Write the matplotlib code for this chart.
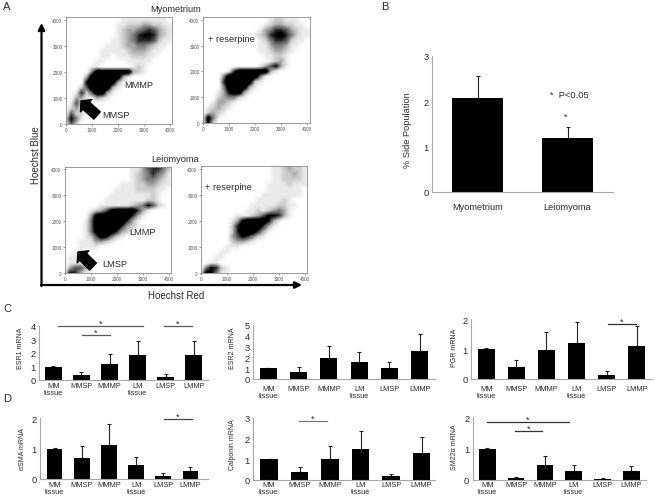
import matplotlib
matplotlib.use("Agg")
import matplotlib.pyplot as plt
from matplotlib.colors import PowerNorm
import numpy as np

plt.rcParams['font.family'] = ['Liberation Sans', 'DejaVu Sans']

W, H = 655, 502
TXT = '#2b2b2b'
AXIS = '#a8a8a8'

# density: rows y=4000..0, columns x=0..4000, step 200, 0-9
myo_density = ["000000000001111111110", "000000000011222332211", "000000000012334565321",
               "000000000012346776321", "000000000112346665211", "000000001112334432110",
               "000000011111233321100", "000000011011122211000", "000000110000111110000",
               "000001100000012100000", "000004999999932100000", "0000399999931",
               "000079999931", "00025999931", "0016259931", "003311321", "01521",
               "0232", "0522", "274100000000000000000", "152"]
myo_res_density = ["000000000000012211100", "000000000000123322110", "000000000001346653211",
                   "000000000012367864211", "000000000001246652110", "000000000001134431100",
                   "000000000001123321000", "000000000000112210000", "000000000000012310000",
                   "000000000001357310000", "000001699999931", "0000499999941",
                   "000069999921", "00004999931", "0001379931", "000234421", "0013321",
                   "012321", "02321", "1841", "172"]
lei_density = ["000000000000011356642", "000000000000012346431", "000000000000012344321",
               "000000000001112233211", "000000000011112222110", "000000000111111112100",
               "000000001111111122100", "000000011111123475210", "00000123589999631",
               "0000038999999631", "000014999999631", "000014999996321",
               "00001489996321", "000012587421", "0001113321", "0001111", "0011",
               "0110", "0111", "035531", "176311"]
lei_res_density = ["000000000000001123221", "000000000000001122321", "000000000000001122221",
                   "000000000000011112111", "000000000000011111110", "000000000000111111110",
                   "000000000001111121", "000000000011111221100", "000000000112123431",
                   "000000011123577631", "0000001379999731", "000000269999631",
                   "00000026999631", "0000003576421", "00000023321", "00000111", "000011",
                   "00011", "0011", "047621", "187411"]

flow_ticks = [0, 1000, 2000, 3000, 4000]

categories = ['MM\ntissue', 'MMSP', 'MMMP', 'LM\ntissue', 'LMSP', 'LMMP']

side_labels = ['Myometrium', 'Leiomyoma']
side_values = [2.07, 1.19]
side_tops = [2.55, 1.43]

esr1 = [1.0, 0.34, 1.15, 1.82, 0.22, 1.82]
esr1_top = [1.02, 0.56, 1.89, 2.92, 0.42, 2.87]
esr2 = [0.98, 0.64, 1.9, 1.53, 0.98, 2.6]
esr2_top = [1.0, 1.07, 3.07, 2.45, 1.6, 4.14]
pgr = [1.0, 0.39, 0.98, 1.21, 0.14, 1.11]
pgr_top = [1.02, 0.62, 1.57, 1.91, 0.26, 1.76]
asma = [1.0, 0.69, 1.13, 0.46, 0.11, 0.25]
asma_top = [1.01, 1.1, 1.8, 0.74, 0.19, 0.41]
calponin = [1.0, 0.39, 1.02, 1.48, 0.18, 1.29]
calponin_top = [1.01, 0.61, 1.63, 2.35, 0.27, 2.06]
sm22 = [1.0, 0.06, 0.48, 0.29, 0.03, 0.28]
sm22_top = [1.01, 0.1, 0.75, 0.48, 0.05, 0.44]

fig = plt.figure(figsize=(W / 100, H / 100), dpi=100, facecolor='white')


def px_axes(left, right, top, bottom):
    return fig.add_axes([left / W, 1 - bottom / H, (right - left) / W, (bottom - top) / H])


def flow_panel(rows, left, right, top, bottom, xmax, ymax):
    ax = px_axes(left, right, top, bottom)
    grid = np.array([[int(c) for c in r.ljust(21, '0')] for r in rows], dtype=float)
    ax.imshow(grid, cmap='Greys', norm=PowerNorm(gamma=0.95, vmin=0, vmax=7),
              extent=[-100, 4100, -100, 4100], interpolation='bilinear', aspect='auto')
    ax.set_xlim(0, xmax)
    ax.set_ylim(0, ymax)
    ax.set_xticks(flow_ticks)
    ax.set_yticks(flow_ticks)
    ax.tick_params(labelsize=3.4, length=1.5, width=0.4, pad=1, colors='#555555')
    for s in ax.spines.values():
        s.set_color('#8c8c8c')
        s.set_linewidth(0.6)
    return ax


def bar_panel(values, tops, labels, left, right, y0, ytop, ymax, yticks, c0, step, bw,
              pad=1.5, ysize=6.7, xsize=5.3):
    ax = px_axes(left, right, ytop, y0)
    x = np.arange(len(values))
    lower = np.zeros(len(values))
    upper = np.array(tops) - np.array(values)
    ax.bar(x, values, width=bw / step, color='black', zorder=2)
    ax.errorbar(x, values, yerr=[lower, upper], fmt='none', ecolor='#222222',
                elinewidth=0.8, capsize=1.5, capthick=0.8, zorder=1)
    ax.set_xlim((left - c0) / step, (right - c0) / step)
    ax.set_ylim(0, ymax)
    ax.set_xticks(x)
    ax.set_xticklabels(labels, fontsize=xsize, color=TXT, linespacing=1.0)
    ax.set_yticks(yticks)
    ax.tick_params(axis='x', length=0, pad=pad)
    ax.tick_params(axis='y', length=0, pad=2.5, labelsize=ysize, labelcolor=TXT)
    ax.spines['top'].set_visible(False)
    ax.spines['right'].set_visible(False)
    ax.spines['left'].set_color(AXIS)
    ax.spines['bottom'].set_color(AXIS)
    ax.spines['left'].set_linewidth(0.8)
    ax.spines['bottom'].set_linewidth(0.8)
    ax.patch.set_alpha(0)
    return ax


flow_panel(myo_density, 66, 172, 18, 125, 4077, 4115)
flow_panel(myo_res_density, 203, 310, 18, 124, 4115, 4115)
flow_panel(lei_density, 65, 171, 168, 274, 4077, 4077)
flow_panel(lei_res_density, 201, 307, 167, 274, 4077, 4115)

bar_panel(side_values, side_tops, side_labels, 432, 613, 193, 57, 3, [0, 1, 2, 3],
          477.5, 90, 51, pad=7, xsize=6.7)
bar_panel(esr1, esr1_top, categories, 39, 208, 381, 327, 4, [0, 1, 2, 3, 4], 53.3, 28.1, 16.7)
bar_panel(esr2, esr2_top, categories, 253, 435, 380, 325.7, 5, [0, 1, 2, 3, 4, 5], 268.2, 30.3, 17.2, pad=4)
bar_panel(pgr, pgr_top, categories, 471, 652, 380, 320, 2, [0, 1, 2], 486.2, 30.1, 17.4, pad=4)
bar_panel(asma, asma_top, categories, 40, 208, 480, 419.3, 2, [0, 1, 2], 54.5, 27.2, 15.7, pad=1.5)
bar_panel(calponin, calponin_top, categories, 253, 435, 481, 419, 3, [0, 1, 2, 3], 269, 30.5, 17.3, pad=1)
bar_panel(sm22, sm22_top, categories, 472.7, 645.7, 481, 418, 2, [0, 1, 2], 487.3, 28.8, 16.8, pad=1)

# overlay in reference pixels for labels, arrows and significance bars
ov = fig.add_axes([0, 0, 1, 1], facecolor='none')
ov.set_xlim(0, W)
ov.set_ylim(H, 0)
ov.axis('off')


def label(x, y, s, size=6.7, ha='left', rot=0, color=TXT):
    ov.text(x, y, s, fontsize=size, ha=ha, va='center', rotation=rot, color=color)


for x, y, s in [(3, 7, 'A'), (381, 7, 'B'), (3, 309, 'C'), (3, 399, 'D')]:
    label(x, y, s, size=8)

label(176, 9, 'Myometrium', ha='center')
label(175, 159.5, 'Leiomyoma', ha='center')
label(124, 85.6, 'MMMP')
label(102, 115, 'MMSP')
label(129, 233, 'LMMP')
label(102, 265, 'LMSP')
label(208, 40, '+ reserpine')
label(205, 188, '+ reserpine')
label(36, 155, 'Hoechst Blue', ha='center', rot=90, size=7)
label(176, 296, 'Hoechst Red', ha='center', size=7)
label(550, 96, '*  P<0.05')
label(566, 117, '*', ha='center')
label(407, 130, '% Side Population', ha='center', rot=90)

label(20, 348, 'ESR1 mRNA', ha='center', rot=90, size=5)
label(232, 348, 'ESR2 mRNA', ha='center', rot=90, size=5)
label(454, 348, 'PGR mRNA', ha='center', rot=90, size=5)
label(22, 449, 'αSMA mRNA', ha='center', rot=90, size=5)
label(232, 445, 'Calponin mRNA', ha='center', rot=90, size=5)
label(454, 447, 'SM22α mRNA', ha='center', rot=90, size=5)

# large axis arrows of panel A
ov.annotate('', xy=(41.5, 24), xytext=(41.5, 287), arrowprops=dict(arrowstyle='-|>', color='black', lw=1.6, shrinkA=0, shrinkB=0))
ov.annotate('', xy=(302, 286), xytext=(41, 286), arrowprops=dict(arrowstyle='-|>', color='black', lw=1.6, shrinkA=0, shrinkB=0))

# block arrows pointing at the side populations
for tail, tip in [((97, 116.5), (81, 102)), ((93, 267.5), (78, 253))]:
    ov.annotate('', xy=tip, xytext=tail, arrowprops=dict(width=7, headwidth=12, headlength=5, color='black', shrink=0))

sig_bars = [(58, 143, 326.7, '#5a5a5a'), (82, 110, 335.7, '#5a5a5a'), (164, 192, 326.7, '#5a5a5a'),
            (608, 636, 325, '#333333'), (164, 192, 420, '#444444'), (299, 327, 421.7, '#777777'),
            (487, 569, 423, '#333333'), (515, 542, 432, '#333333')]
for x0, x1, y, col in sig_bars:
    ov.plot([x0, x1], [y, y], color=col, lw=0.9)
    label((x0 + x1) / 2, y - 2.5, '*', size=6.5, ha='center', color='#222222')

fig.savefig('out.png', dpi=100)
